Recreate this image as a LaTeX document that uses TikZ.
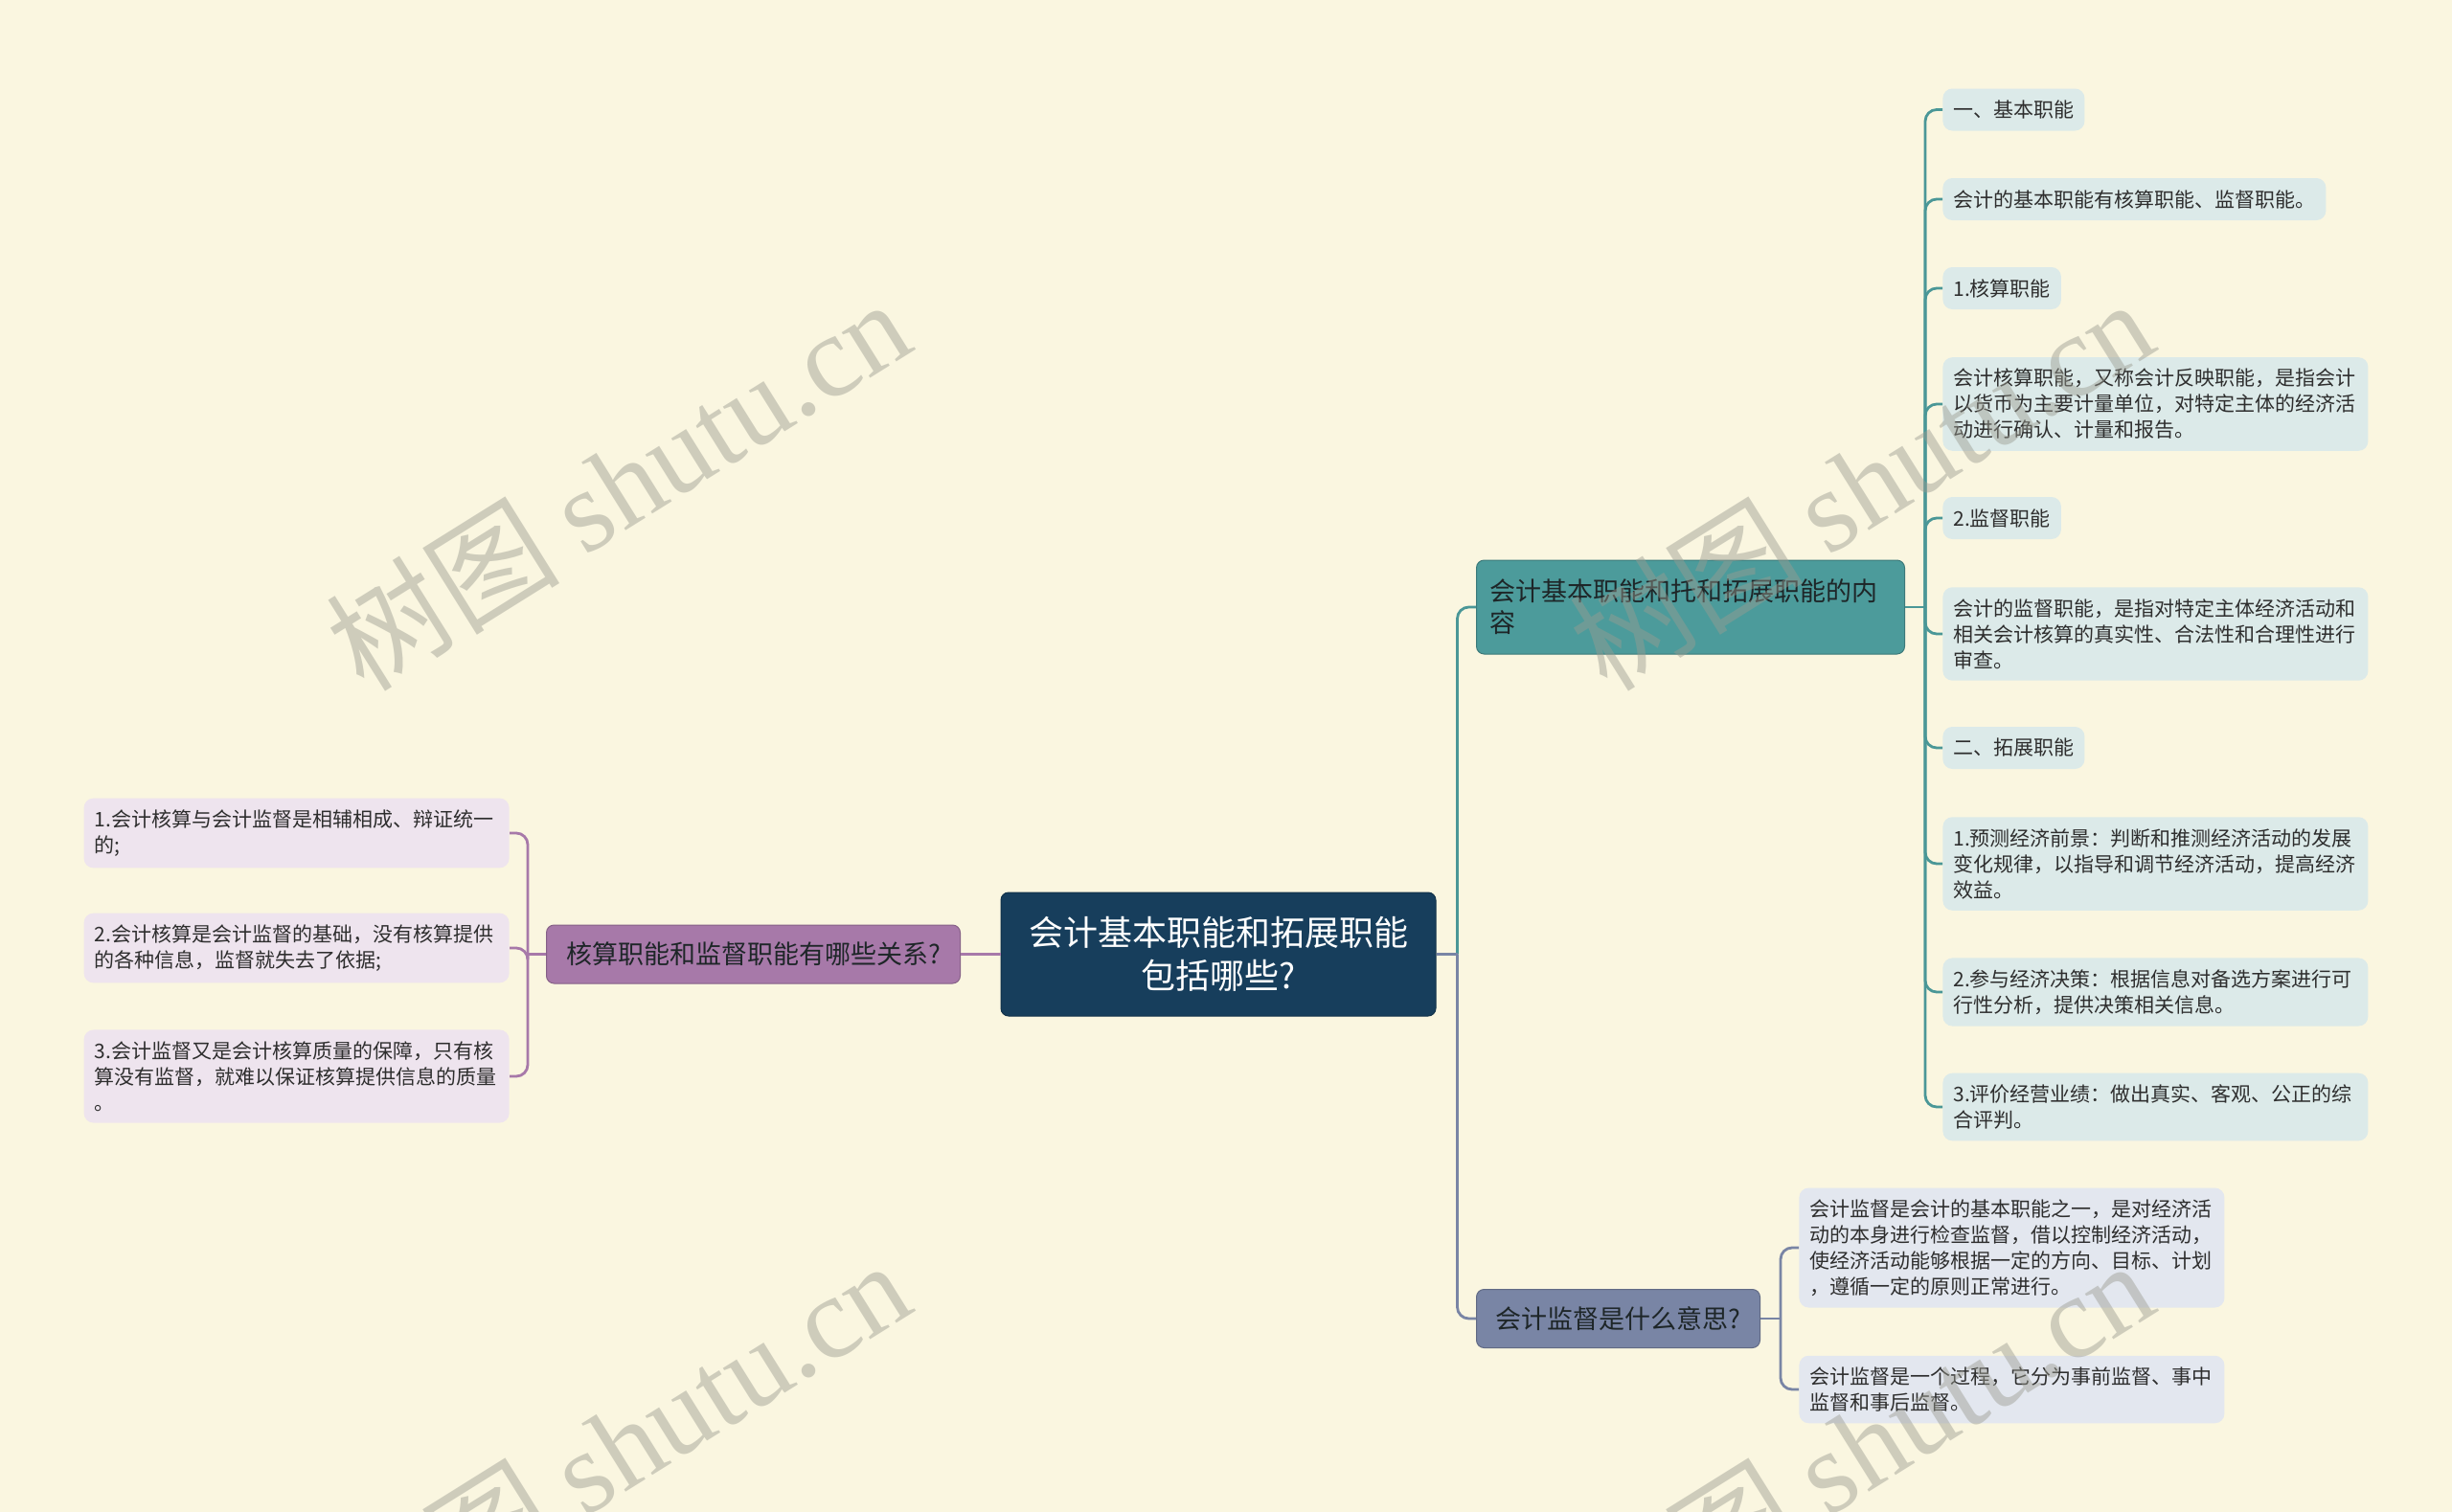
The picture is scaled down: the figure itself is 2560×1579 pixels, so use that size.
\documentclass[tikz,border=0pt]{standalone}
\usepackage{fontspec}
\setmainfont{Noto Sans CJK SC}
\newfontfamily\wmserif{Liberation Serif}
\usepackage{tikz}
\usetikzlibrary{positioning}
\usepackage{xcolor}
\definecolor{paper}{HTML}{FAF6E0}
\definecolor{rootc}{HTML}{173E5C}
\definecolor{tealc}{HTML}{4C9B9B}
\definecolor{teall}{HTML}{4A9797}
\definecolor{slatec}{HTML}{7985A5}
\definecolor{purplec}{HTML}{A779A9}
\definecolor{leafr}{HTML}{DCEAE9}
\definecolor{leafl}{HTML}{EEE4EE}
\definecolor{leafs}{HTML}{E3E7EF}
\definecolor{txt}{HTML}{2E2E2E}
\definecolor{txtd}{HTML}{1E2628}
\definecolor{wmc}{HTML}{9A9B90}

\begin{document}
\begin{tikzpicture}[
  x=0.5pt, y=-0.5pt,
  root/.style={fill=rootc, draw=rootc!80!black, line width=0.5pt, rounded corners=4pt, minimum width=227pt, minimum height=64.5pt, align=center, text=white, font=\fontsize{18}{22.5}\selectfont},
  topic/.style={rounded corners=4pt, line width=0.5pt, inner xsep=7pt, minimum height=30.5pt, text=txtd, font=\fontsize{13.5}{16.5}\selectfont},
  leaf/.style={rounded corners=5pt, inner xsep=5.5pt, inner ysep=6pt, minimum height=22pt, text=txt, font=\fontsize{10.5}{13.5}\selectfont},
  wide/.style={text width=211pt, align=left},
  link/.style={line width=1.4pt},
  wmark/.style={rotate=32, text=wmc, opacity=0.45, font=\fontsize{61}{63}\selectfont},
]

\useasboundingbox (0,0) rectangle (2560,1579);
\fill[paper] (0,0) rectangle (2560,1579);

\node[root] (main) at (1272,996.5) {会计基本职能和拓展职能\\包括哪些?};

\node[topic, fill=tealc, draw=teall!80!black, anchor=west, text width=209.5pt, minimum height=49pt, align=left] (basic) at (1541,634) {会计基本职能和托和拓展职能的内\\容};
\node[topic, fill=slatec, draw=slatec!80!black, anchor=west, minimum width=148pt] (meaning) at (1541,1377) {会计监督是什么意思?};
\node[topic, fill=purplec, draw=purplec!80!black, anchor=east, minimum width=216pt] (relation) at (1003,996.5) {核算职能和监督职能有哪些关系?};

\node[leaf, fill=leafr, anchor=west] (r1) at (2028,114.5) {一、基本职能};
\node[leaf, fill=leafr, anchor=west] (r2) at (2028,208) {会计的基本职能有核算职能、监督职能。};
\node[leaf, fill=leafr, anchor=west] (r3) at (2028,301) {1.核算职能};
\node[leaf, wide, fill=leafr, anchor=west] (r4) at (2028,422) {会计核算职能，又称会计反映职能，是指会计\\以货币为主要计量单位，对特定主体的经济活\\动进行确认、计量和报告。};
\node[leaf, fill=leafr, anchor=west] (r5) at (2028,541) {2.监督职能};
\node[leaf, wide, fill=leafr, anchor=west] (r6) at (2028,662) {会计的监督职能，是指对特定主体经济活动和\\相关会计核算的真实性、合法性和合理性进行\\审查。};
\node[leaf, fill=leafr, anchor=west] (r7) at (2028,781) {二、拓展职能};
\node[leaf, wide, fill=leafr, anchor=west] (r8) at (2028,902) {1.预测经济前景：判断和推测经济活动的发展\\变化规律，以指导和调节经济活动，提高经济\\效益。};
\node[leaf, wide, fill=leafr, anchor=west] (r9) at (2028,1036) {2.参与经济决策：根据信息对备选方案进行可\\行性分析，提供决策相关信息。};
\node[leaf, wide, fill=leafr, anchor=west] (r10) at (2028,1156) {3.评价经营业绩：做出真实、客观、公正的综\\合评判。};

\node[leaf, wide, fill=leafl, anchor=east] (l1) at (532,870) {1.会计核算与会计监督是相辅相成、辩证统一\\的;};
\node[leaf, wide, fill=leafl, anchor=east] (l2) at (532,990) {2.会计核算是会计监督的基础，没有核算提供\\的各种信息，监督就失去了依据;};
\node[leaf, wide, fill=leafl, anchor=east] (l3) at (532,1124) {3.会计监督又是会计核算质量的保障，只有核\\算没有监督，就难以保证核算提供信息的质量\\。};

\node[leaf, wide, fill=leafs, anchor=west] (m1) at (1878,1303) {会计监督是会计的基本职能之一，是对经济活\\动的本身进行检查监督，借以控制经济活动，\\使经济活动能够根据一定的方向、目标、计划\\，遵循一定的原则正常进行。};
\node[leaf, wide, fill=leafs, anchor=west] (m2) at (1878,1451) {会计监督是一个过程，它分为事前监督、事中\\监督和事后监督。};

\coordinate (mj) at ([xshift=11pt]main.east);
\coordinate (bj) at ([xshift=10.5pt]basic.east);
\coordinate (sj) at ([xshift=10.5pt]meaning.east);
\coordinate (rj) at ([xshift=-9.5pt]relation.west);

\draw[link, teall, rounded corners=6pt] (mj) |- (basic.west);
\draw[link, slatec, rounded corners=6pt] (mj) |- (meaning.west);
\draw[link, slatec] (main.east) -- (mj);
\draw[link, purplec] (main.west) -- (relation.east);

\draw[link, teall] (basic.east) -- (bj);
\foreach \n in {r1,r2,r3,r4,r5,r6,r7,r8,r9,r10}
  \draw[link, teall, rounded corners=6pt] (bj) |- (\n.west);

\draw[link, purplec] (relation.west) -- (rj);
\foreach \n in {l1,l2,l3}
  \draw[link, purplec, rounded corners=6pt] (rj) |- (\n.east);

\draw[link, slatec] (meaning.east) -- (sj);
\foreach \n in {m1,m2}
  \draw[link, slatec, rounded corners=6pt] (sj) |- (\n.west);

\foreach \wx/\wy [count=\i] in {645/505, 1943/505, 645/1509, 1943/1509}
  \node[wmark] (wm\i) at (\wx,\wy) {树图 {\wmserif shutu.cn}};

\end{tikzpicture}
\end{document}
